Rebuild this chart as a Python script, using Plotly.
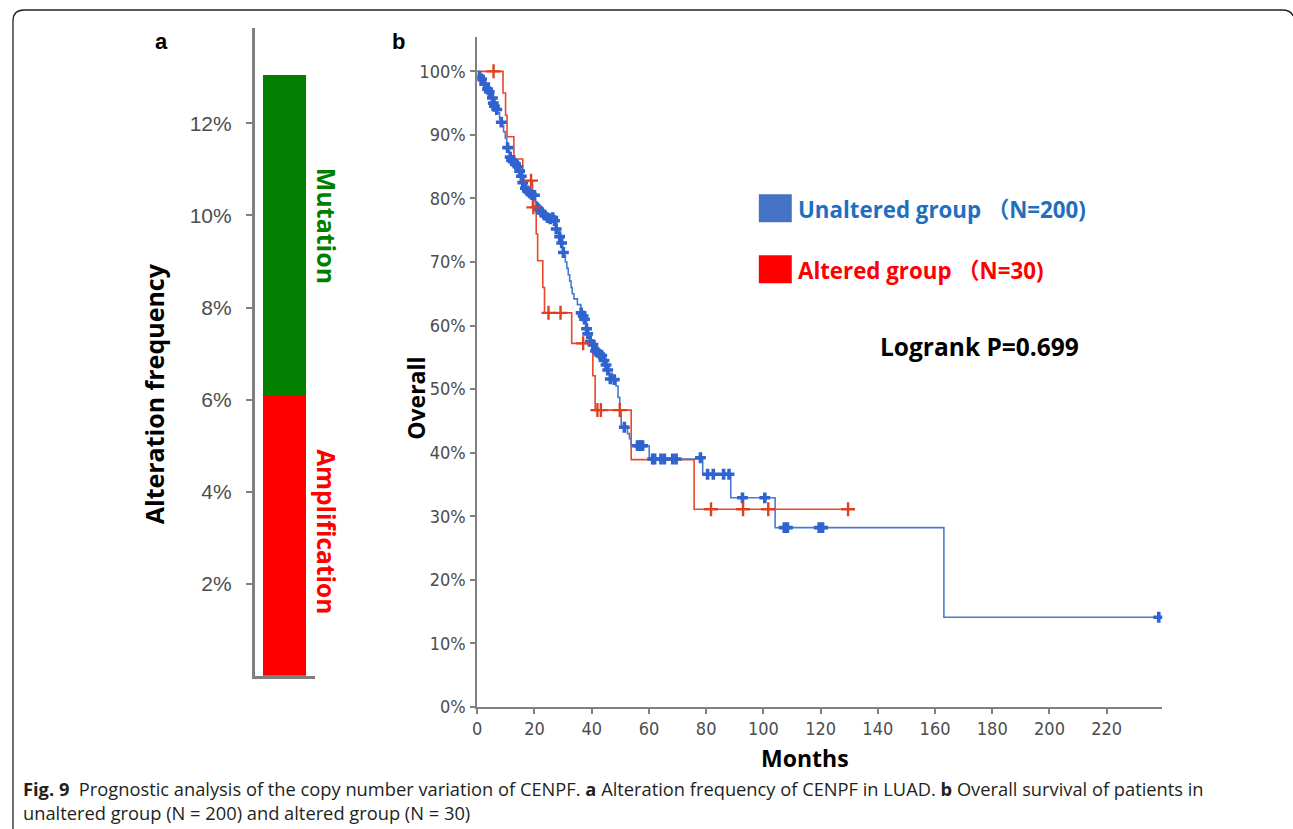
import plotly.graph_objects as go

W, H = 1293, 829
H_EFF = 818.0   # effective plotting height observed in the renderer
W_EFF = 1290.0  # effective plotting width observed in the renderer
X0 = 3.0
def px(x):
    return (x - X0) / W_EFF
def py(y):
    return 1 - y / H_EFF

# ---------------- Panel a data ----------------
alt_types = ["Amplification", "Mutation"]
alt_freq = [6.09, 6.96]          # percent
alt_colors = ["#FF0000", "#007F00"]
a_ticks = [2, 4, 6, 8, 10, 12]
a_ticktext = ["2%", "4%", "6%", "8%", "10%", "12%"]

# ---------------- Panel b data ----------------
# Altered group (N=30): step points (month, survival %)
red_t = [0, 9.0, 9.9, 10.4, 12.8, 15.9, 19.3, 20.6, 21.1, 22.9, 23.5, 33.0, 40.4, 41.2, 53.8, 75.8, 129.6]
red_s = [100, 96.6, 93.1, 89.7, 86.2, 82.8, 78.6, 74.4, 70.2, 66.0, 62.0, 57.2, 52.1, 46.7, 38.9, 31.1, 31.1]
red_ct = [5.7, 18.8, 19.6, 24.9, 29.1, 37.0, 42.0, 43.2, 49.8, 81.7, 92.9, 101.7, 129.6]
red_cs = [100, 82.8, 78.6, 62.0, 62.0, 57.2, 46.7, 46.7, 46.7, 31.1, 31.1, 31.1, 31.1]

# Unaltered group (N=200)
blue_t = [0, 0.5, 1.0, 1.8, 2.5, 3.2, 4.0, 4.8, 5.5, 6.2, 7.0, 7.8, 8.6, 9.2, 9.8, 10.3,
          10.8, 11.3, 13.0, 14.2, 15.0, 15.6, 16.3, 17.2, 19.5, 20.3, 20.8, 22.5, 24.0,
          27.2, 27.8, 28.6, 29.3, 29.8, 30.3, 30.8, 31.3, 31.8, 32.3, 32.8, 33.2, 33.8,
          35.0, 36.2, 37.4, 38.2, 38.8, 39.8, 41.0, 42.5, 44.0, 45.0, 46.0, 47.2, 48.5,
          49.2, 49.8, 50.3, 52.5, 53.2, 53.8, 60.1, 78.8, 88.6, 104.1, 163.1, 238.2]
blue_s = [100, 99.5, 99.0, 98.5, 98.0, 97.5, 97.0, 96.5, 95.5, 94.5, 93.5, 92.5, 91.5, 90.5, 89.5, 88.5,
          87.5, 86.5, 85.8, 85.0, 84.0, 83.0, 82.0, 81.2, 80.6, 79.5, 78.6, 77.8, 77.2,
          76.3, 75.2, 74.2, 73.2, 72.2, 71.0, 70.0, 69.0, 68.0, 67.0, 66.0, 65.0, 64.2,
          63.3, 62.2, 61.0, 59.6, 58.6, 57.5, 56.4, 55.6, 54.8, 53.6, 52.5, 51.6, 50.5,
          48.7, 46.5, 44.2, 43.0, 42.2, 41.1, 39.0, 36.6, 32.9, 28.2, 14.1, 14.1]
blue_ct = [0.8, 1.5, 2.6, 3.6, 4.2, 5.3, 5.6, 6.0, 6.8, 8.4, 10.6, 11.5, 12.0, 12.6, 13.4,
           14.2, 14.8, 15.4, 15.9, 16.8, 17.5, 18.3, 19.0, 20.0, 20.9, 21.5, 22.5, 23.5,
           24.5, 25.5, 26.4, 27.0, 27.6, 28.8, 29.5, 30.1, 36.3, 37.0, 37.5, 38.2, 38.6,
           39.5, 40.4, 41.3, 42.0, 42.8, 43.5, 44.3, 45.0, 45.6, 46.5, 47.9, 51.4, 56.0,
           56.6, 57.2, 57.8, 61.3, 62.0, 64.2, 65.4, 68.3, 69.5, 78.0, 80.5, 82.5, 86.1,
           88.0, 92.7, 100.5, 107.3, 108.4, 119.5, 120.7, 238.2]
blue_cs = [99.2, 98.8, 98.0, 97.2, 96.8, 95.8, 95.0, 94.5, 94.0, 92.0, 88.0, 86.5, 86.0, 85.8, 85.4,
           85.0, 84.3, 83.5, 82.5, 81.6, 81.2, 80.9, 80.6, 80.5, 78.6, 78.3, 77.8, 77.4,
           77.0, 76.8, 77.0, 76.5, 75.2, 74.0, 73.0, 71.5, 62.0, 61.5, 61.0, 59.5, 58.7,
           57.5, 57.0, 56.0, 55.8, 55.5, 55.3, 54.5, 53.8, 53.0, 51.6, 51.5, 44.0, 41.1,
           41.1, 41.1, 41.1, 39.0, 39.0, 39.0, 39.0, 39.0, 39.0, 39.2, 36.6, 36.6, 36.6,
           36.6, 32.9, 32.9, 28.2, 28.2, 28.2, 28.2, 14.1]

b_xticks = list(range(0, 221, 20))
b_yticks = list(range(0, 101, 10))
b_yticktext = [f"{v}%" for v in b_yticks]

RED_LINE = "#E8472B"
BLUE_LINE = "#4A78D0"
GREY = "#808080"
TICKFONT_B = dict(family="Liberation Sans Narrow, DejaVu Sans Condensed, Arial Narrow, sans-serif", size=18, color="#4d4d4d")
TICKFONT_A = dict(family="Liberation Sans, Arial, sans-serif", size=21, color="#4d4d4d")

fig = go.Figure()

# Panel a bars
for name, val, col in zip(alt_types, alt_freq, alt_colors):
    fig.add_trace(go.Bar(x=[0], y=[val], name=name, marker=dict(color=col, line=dict(width=0)),
                         width=1, xaxis="x", yaxis="y", showlegend=False, hoverinfo="skip"))

# Panel b curves
fig.add_trace(go.Scatter(x=red_t, y=red_s, mode="lines", line=dict(color=RED_LINE, width=1.6, shape="hv"),
                         xaxis="x2", yaxis="y2", showlegend=False))
fig.add_trace(go.Scatter(x=blue_t, y=blue_s, mode="lines", line=dict(color=BLUE_LINE, width=1.6, shape="hv"),
                         xaxis="x2", yaxis="y2", showlegend=False))
fig.add_trace(go.Scatter(x=blue_ct, y=blue_cs, mode="markers",
                         marker=dict(symbol="cross", size=9, color="#2F63CF", line=dict(width=0)),
                         xaxis="x2", yaxis="y2", showlegend=False))
fig.add_trace(go.Scatter(x=red_ct, y=red_cs, mode="markers",
                         marker=dict(symbol="cross-thin", size=10, line=dict(color="#E0401F", width=2.4)),
                         xaxis="x2", yaxis="y2", showlegend=False))

fig.update_layout(
    width=W, height=H, margin=dict(l=0, r=0, t=0, b=0, pad=0),
    paper_bgcolor="white", plot_bgcolor="white", barmode="stack", bargap=0,
    xaxis=dict(domain=[px(253), px(313)], range=[-0.686, 0.709], showgrid=False, zeroline=False,
               showticklabels=False, ticks="", showline=True, linecolor=GREY, linewidth=2.5, fixedrange=True),
    yaxis=dict(domain=[py(675), py(28)], range=[0, 14.07], showgrid=False, zeroline=False,
               tickvals=a_ticks, ticktext=a_ticktext, ticks="outside", ticklen=6, tickwidth=2,
               tickcolor=GREY, showline=True, linecolor=GREY, linewidth=2.5, tickfont=TICKFONT_A,
               ticklabelstandoff=10, anchor="x"),
    xaxis2=dict(domain=[px(476), px(1162)], range=[0, 239.4], showgrid=False, zeroline=False,
                tickvals=b_xticks, ticks="outside", ticklen=5, tickwidth=1.5, tickcolor=GREY,
                showline=True, linecolor=GREY, linewidth=2, tickfont=TICKFONT_B, anchor="y2"),
    yaxis2=dict(domain=[py(706), py(37)], range=[0, 105.4], showgrid=False, zeroline=False,
                tickvals=b_yticks, ticktext=b_yticktext, ticks="outside", ticklen=5, tickwidth=1.5,
                tickcolor=GREY, showline=True, linecolor=GREY, linewidth=2, tickfont=TICKFONT_B,
                anchor="x2", ticklabelstandoff=1),
)

ann = []
def A(x, y, text, size, color="black", family="Liberation Sans, Arial, sans-serif", angle=0, xanchor="center", yanchor="middle", align="center"):
    ann.append(dict(x=px(x), y=py(y), xref="paper", yref="paper", text=text, showarrow=False,
                    font=dict(size=size, color=color, family=family), textangle=angle,
                    xanchor=xanchor, yanchor=yanchor, align=align))

BOLD_F = "Open Sans, Noto Sans, sans-serif"
A(160, 41, "<b>a</b>", 22)
A(397, 41, "<b>b</b>", 22)
A(153, 393, "<b>Alteration frequency</b>", 25, family=BOLD_F, angle=-90)
A(325, 225, "<b>Mutation</b>", 25, color="#007F00", family=BOLD_F, angle=90)
A(325, 531, "<b>Amplification</b>", 24.5, color="#FF0000", family=BOLD_F, angle=90)
A(415, 398, "<b>Overall</b>", 23, family=BOLD_F, angle=-90)
A(804, 757, "<b>Months</b>", 23, family=BOLD_F)
LEG_F = "Open Sans, Noto Sans CJK SC, sans-serif"
A(795, 209, "<b>Unaltered group （N=200)</b>", 22.3, color="#1F6FBF", family=LEG_F, xanchor="left")
A(795, 270, "<b>Altered group （N=30)</b>", 22.3, color="#FF0000", family=LEG_F, xanchor="left")
A(877, 346, "<b>Logrank P=0.699</b>", 24.5, family=LEG_F, xanchor="left")
A(19, 800, "<b>Fig. 9</b>  Prognostic analysis of the copy number variation of CENPF. <b>a</b> Alteration frequency of CENPF in LUAD. <b>b</b> Overall survival of patients in<br>unaltered group (N = 200) and altered group (N = 30)",
  18.3, color="#231F20", family="Open Sans, Noto Sans, sans-serif", xanchor="left", align="left")
fig.update_layout(annotations=ann)

shapes = [
    dict(type="rect", xref="paper", yref="paper", x0=px(758), x1=px(791), y0=py(222), y1=py(194),
         fillcolor="#4472C4", line=dict(width=0)),
    dict(type="rect", xref="paper", yref="paper", x0=px(758), x1=px(791), y0=py(283), y1=py(255),
         fillcolor="#FF0000", line=dict(width=0)),
]
border = (f"M {px(11)},{py(829)} L {px(11)},{py(21)} Q {px(11)},{py(10)} {px(22)},{py(10)} "
          f"L {px(1282)},{py(10)} Q {px(1291)},{py(10)} {px(1293)},{py(16)}")
shapes.append(dict(type="path", xref="paper", yref="paper", path=border, line=dict(color="#222222", width=1.3)))
fig.update_layout(shapes=shapes)

fig.write_html("out.html", config={"displayModeBar": False})
